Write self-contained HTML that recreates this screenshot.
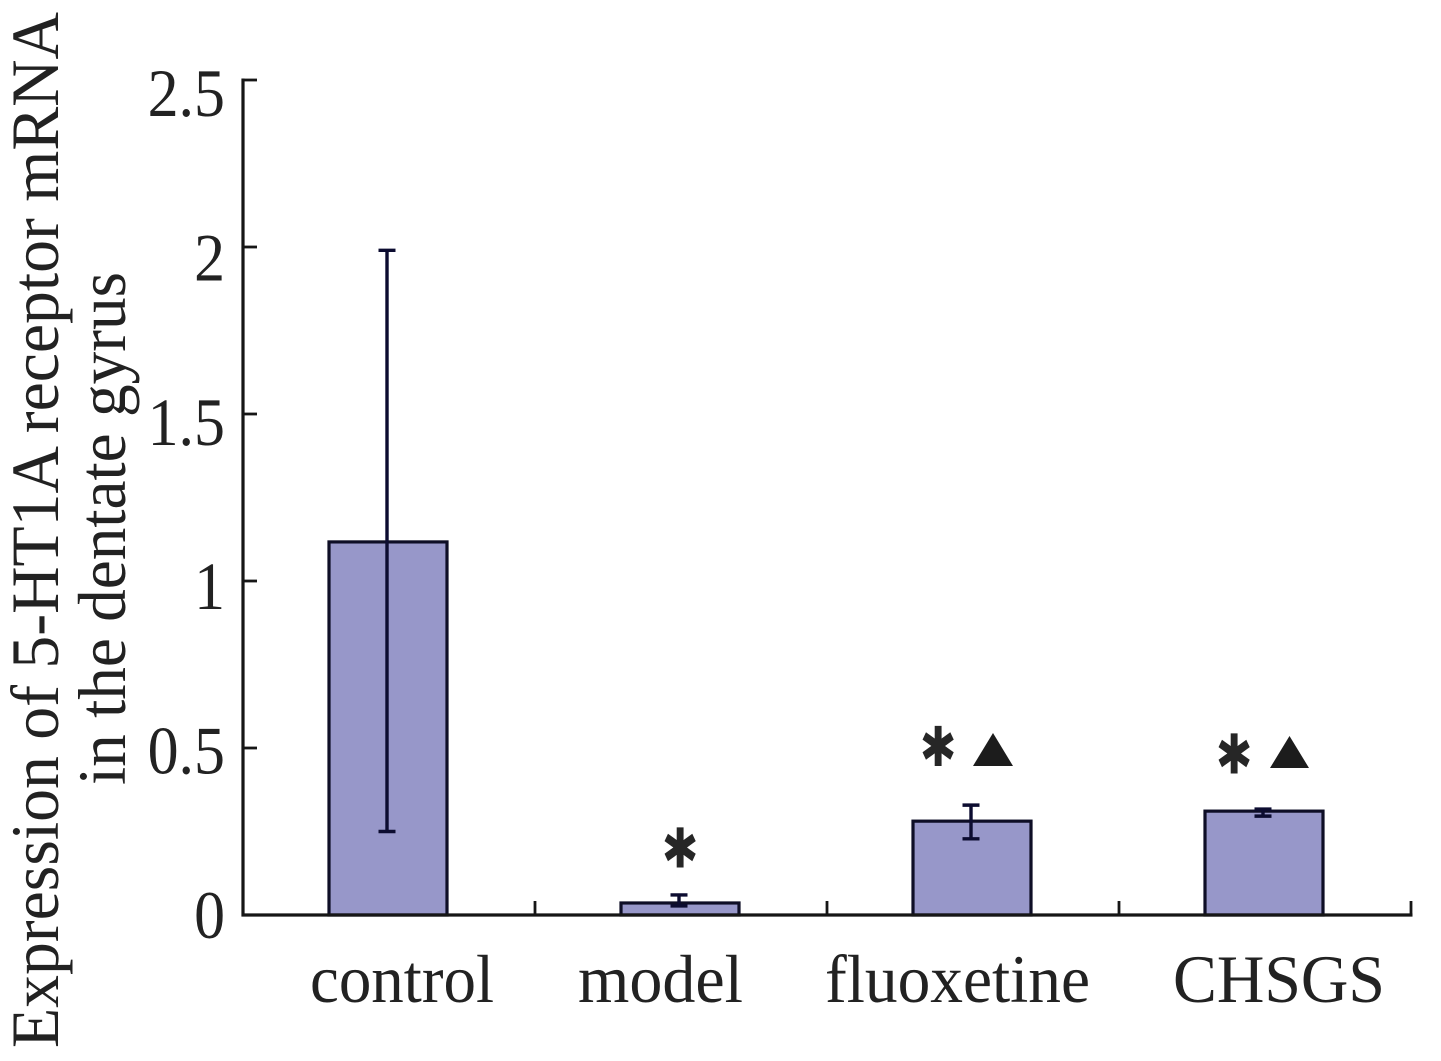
<!DOCTYPE html>
<html lang="en">
<head>
<meta charset="utf-8">
<title>Expression of 5-HT1A receptor mRNA</title>
<style>
html,body{margin:0;padding:0;background:#fff;}
svg{display:block;}
text{font-family:"Liberation Serif","Times New Roman",serif;fill:#222;}
.sig{font-family:"DejaVu Sans",sans-serif;fill:#262626;}
</style>
</head>
<body>
<svg id="chart" width="1441" height="1061" viewBox="0 0 1441 1061" xmlns="http://www.w3.org/2000/svg">
  <rect x="0" y="0" width="1441" height="1061" fill="#ffffff"/>

  <text transform="translate(58 1048) rotate(-90)" font-size="68" textLength="1036" lengthAdjust="spacingAndGlyphs">Expression of 5-HT1A receptor mRNA</text>
  <text transform="translate(125 785) rotate(-90)" font-size="68" textLength="513" lengthAdjust="spacingAndGlyphs">in the dentate gyrus</text>

  <g id="bars"></g>
  <g id="error-bars"></g>
  <g id="axes"></g>

  <text x="310" y="1002" font-size="68" textLength="184" lengthAdjust="spacingAndGlyphs">control</text>
  <text x="578" y="1002" font-size="68" textLength="165" lengthAdjust="spacingAndGlyphs">model</text>
  <text x="825" y="1002" font-size="68" textLength="265" lengthAdjust="spacingAndGlyphs">fluoxetine</text>
  <text x="1173" y="1002" font-size="68" textLength="212" lengthAdjust="spacingAndGlyphs">CHSGS</text>

  <text class="sig" transform="translate(680 867.5) scale(1 1.25)" font-size="44" text-anchor="middle">✱</text>
  <text class="sig" transform="translate(938 766) scale(1 1.25)" font-size="44" text-anchor="middle">✱</text>
  <text class="sig" transform="translate(1234 773.5) scale(1 1.25)" font-size="44" text-anchor="middle">✱</text>
  <polygon points="993,733 1013,766 973,766" fill="#1c1c1c"/>
  <polygon points="1289.5,736 1309,768 1270,768" fill="#1c1c1c"/>
</svg>

<script>
const categories = ['control', 'model', 'fluoxetine', 'CHSGS'];
const means = [1.117, 0.036, 0.281, 0.311];
const errorUpper = [1.99, 0.06, 0.329, 0.317];
const errorLower = [0.25, 0.027, 0.228, 0.296];
const yTicks = [0, 0.5, 1, 1.5, 2, 2.5];
const yTickLabels = ['0', '0.5', '1', '1.5', '2', '2.5'];

const NS = 'http://www.w3.org/2000/svg';
const AXIS_COLOR = '#161616';
const ERROR_COLOR = '#0c0c30';
const axisLeft = 243;
const axisRight = 1411;
const axisBottom = 915;
const axisTop = 80;
const yMax = 2.5;

function yScale(v) {
  return axisBottom - (v / yMax) * (axisBottom - axisTop);
}
function yLabelScale(v) {
  return 938 - (v / yMax) * (938 - 116);
}
function bandWidth() {
  return (axisRight - axisLeft) / categories.length;
}
function xCenter(i) {
  return axisLeft + bandWidth() * (i + 0.5);
}
function makeLine(parent, x1, y1, x2, y2, color, width) {
  const l = document.createElementNS(NS, 'line');
  l.setAttribute('x1', x1);
  l.setAttribute('y1', y1);
  l.setAttribute('x2', x2);
  l.setAttribute('y2', y2);
  l.setAttribute('stroke', color);
  l.setAttribute('stroke-width', width);
  parent.appendChild(l);
  return l;
}

const barsGroup = document.getElementById('bars');
const errorGroup = document.getElementById('error-bars');
const axesGroup = document.getElementById('axes');
const barWidth = 118;
const capHalf = 8.5;

categories.forEach(function (name, i) {
  const slug = name.toLowerCase();
  const cx = xCenter(i);
  const top = yScale(means[i]);

  const bar = document.createElementNS(NS, 'rect');
  bar.setAttribute('x', cx - 1 - barWidth / 2);
  bar.setAttribute('y', top);
  bar.setAttribute('width', barWidth);
  bar.setAttribute('height', axisBottom - top);
  bar.setAttribute('fill', '#9797c9');
  bar.setAttribute('stroke', '#0e0e26');
  bar.setAttribute('stroke-width', '3.2');
  
  
  barsGroup.appendChild(bar);

  const ex = cx - 2;
  const eu = yScale(errorUpper[i]);
  const el = yScale(errorLower[i]);
  const stem = makeLine(errorGroup, ex, eu, ex, el, ERROR_COLOR, 3.4);
  
  
  const capTop = makeLine(errorGroup, ex - capHalf, eu, ex + capHalf, eu, ERROR_COLOR, 3.4);
  
  
  const capBottom = makeLine(errorGroup, ex - capHalf, el, ex + capHalf, el, ERROR_COLOR, 3.4);
  
  
});

const yAxisLine = makeLine(axesGroup, axisLeft, axisTop - 1.5, axisLeft, axisBottom + 1.5, AXIS_COLOR, 3.2);


const xAxisLine = makeLine(axesGroup, axisLeft - 1.5, axisBottom, axisRight + 1.5, axisBottom, AXIS_COLOR, 3.2);



yTicks.forEach(function (v, i) {
  const y = yScale(v);
  if (v !== 0) {
    const tick = makeLine(axesGroup, axisLeft, y, axisLeft + 14, y, AXIS_COLOR, 2.8);
    
    
  }
  const label = document.createElementNS(NS, 'text');
  label.setAttribute('x', 225);
  label.setAttribute('y', yLabelScale(v));
  label.setAttribute('font-size', '68');
  label.setAttribute('text-anchor', 'end');
  
  
  label.textContent = yTickLabels[i];
  axesGroup.appendChild(label);
  label.setAttribute('textLength', (label.getComputedTextLength() * 0.91).toFixed(1));
  label.setAttribute('lengthAdjust', 'spacingAndGlyphs');
});

categories.forEach(function (name, i) {
  const x = axisLeft + bandWidth() * (i + 1);
  const tick = makeLine(axesGroup, x, axisBottom, x, axisBottom - 14, AXIS_COLOR, 2.8);
  
  
});
</script>
</body>
</html>
